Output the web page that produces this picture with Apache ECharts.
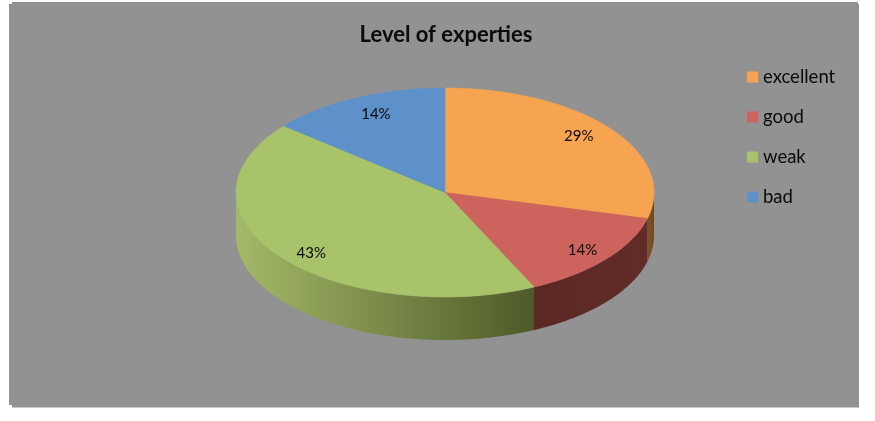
<!DOCTYPE html>
<html>
<head>
<meta charset="utf-8">
<title>Level of experties</title>
<style>html,body{margin:0;padding:0;background:#fff}#chart{width:875px;height:421px}</style>
<script src="https://cdn.jsdelivr.net/npm/echarts@6/dist/echarts.min.js"></script>
</head>
<body>
<div id="chart"></div>
<script>
// Share of respondents per level, in percent
const categories = ['excellent', 'good', 'weak', 'bad'];
const shares = [29, 14, 43, 14];

// Colours of the top faces and of the rim below them
const topColors = ['#f7a451', '#cc635c', '#a9c36a', '#5e91c9'];
const rimColors = [
  ['#7d5226', '#74481d'],
  ['#5c2824', '#612c27'],
  ['#a4b968', '#4e5a28'],
  ['#3a5a80', '#3a5a80']
];

// Tilted disc: ellipse centre and radii, and the height of the rim
const disc = { cx: 445, cy: 192.5, rx: 209, ry: 104.5, depth: 43 };
// Label placement as a fraction of the radius, with a small per-slice shift
const labelRadius = 0.81;
const labelShift = [[0, -4], [7, 4], [0, 9], [3, -2]];

const total = shares.reduce((a, b) => a + b, 0);
let running = 0;
const spans = shares.map(v => {
  const start = running / total * 360;
  running += v;
  return [start, running / total * 360, v];
});

// Point on the rim of the disc; angle runs clockwise from twelve o'clock
function rimPoint(deg, drop) {
  const a = deg * Math.PI / 180;
  return [disc.cx + disc.rx * Math.sin(a), disc.cy - disc.ry * Math.cos(a) + (drop || 0)];
}

function arcPoints(from, to, drop) {
  const pts = [];
  const steps = Math.max(2, Math.ceil((to - from) * 2));
  for (let i = 0; i <= steps; i++) pts.push(rimPoint(from + (to - from) * i / steps, drop));
  return pts;
}

function makeRenderer(index) {
  return function (params, api) {
    const start = api.value(0), end = api.value(1), value = api.value(2);
    const children = [];

    // Only the part of the rim on the near half of the disc can be seen
    const wallFrom = Math.max(start, 90), wallTo = Math.min(end, 270);
    if (wallTo > wallFrom) {
      const upper = arcPoints(wallFrom, wallTo, 0);
      const lower = arcPoints(wallFrom, wallTo, disc.depth).reverse();
      const stops = rimColors[index];
      // Clockwise on the near half means right to left, so the gradient runs that way too
      children.push({
        type: 'polygon',
        shape: { points: upper.concat(lower) },
        style: {
          fill: {
            type: 'linear', x: 1, y: 0, x2: 0, y2: 0,
            colorStops: [{ offset: 0, color: stops[1] }, { offset: 1, color: stops[0] }]
          }
        }
      });
    }

    children.push({
      type: 'polygon',
      shape: { points: [[disc.cx, disc.cy]].concat(arcPoints(start, end, 0)) },
      style: { fill: topColors[index], stroke: topColors[index], lineWidth: 0.5 }
    });

    const mid = (start + end) / 2 * Math.PI / 180;
    children.push({
      type: 'text',
      z2: 10,
      style: {
        x: disc.cx + disc.rx * labelRadius * Math.sin(mid) + labelShift[index][0],
        y: disc.cy - disc.ry * labelRadius * Math.cos(mid) + labelShift[index][1],
        text: value + '%',
        fill: '#0a0a0a',
        font: '15px Lato',
        align: 'center',
        verticalAlign: 'middle'
      }
    });
    return { type: 'group', children };
  };
}

const chart = echarts.init(document.getElementById('chart'), null, { renderer: 'canvas' });
chart.setOption({
  animation: false,
  backgroundColor: '#ffffff',
  title: {
    text: 'Level of experties',
    left: 441,
    top: 19,
    textAlign: 'center',
    textStyle: { fontFamily: 'Lato', fontWeight: 'bold', fontSize: 22, color: '#0a0a0a' }
  },
  legend: {
    orient: 'vertical',
    left: 742,
    top: 62,
    itemWidth: 11,
    itemHeight: 11,
    itemGap: 20,
    selectedMode: false,
    icon: 'rect',
    data: categories,
    textStyle: { fontFamily: 'Lato', fontSize: 18.5, color: '#0a0a0a', lineHeight: 20 }
  },
  graphic: [{
    type: 'polygon',
    z: -10,
    silent: true,
    shape: { points: [[12, 2], [858, 2], [858, 4], [859, 4], [859, 407.5], [12, 407.5], [12, 405], [9, 405], [9, 4], [12, 4]] },
    style: { fill: '#929292' }
  }],
  series: categories.map((name, i) => ({
    type: 'custom',
    name,
    coordinateSystem: 'none',
    itemStyle: { color: topColors[i] },
    data: [spans[i]],
    renderItem: makeRenderer(i)
  }))
});
</script>
</body>
</html>
